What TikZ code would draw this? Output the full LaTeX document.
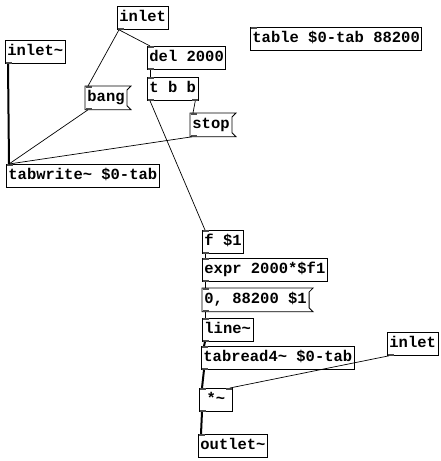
\documentclass[tikz,border=0pt]{standalone}
\usepackage{fontspec}
\setmonofont{Liberation Mono}

\tikzset{
  pdbox/.style={draw, line width=0.8pt, anchor=north west, font=\ttfamily\bfseries\fontsize{15.5}{16}\selectfont,
    inner xsep=2pt, inner ysep=0pt, minimum height=23pt, text height=11pt, text depth=3pt},
  pdmsgbox/.style={pdbox, draw=none},
  ctl/.style={line width=0.7pt},
  sig/.style={line width=2pt}
}
\newcommand{\pdflag}[1]{%
  \draw[line width=0.8pt] (#1.north west) -- ([xshift=4pt]#1.north east) -- ([yshift=-4pt]#1.north east)
    -- ([yshift=4pt]#1.south east) -- ([xshift=4pt]#1.south east) -- (#1.south west) -- cycle;}

\begin{document}
\begin{tikzpicture}[x=1pt,y=-1pt]
  \useasboundingbox[fill=white] (0,0) rectangle (440,461);

  %% Left part: recording
  \node[pdbox] (inA)   at (117,6)   {inlet};
  \node[pdbox] (inSig) at (5,40)    {inlet\textasciitilde};
  \node[pdbox] (del)   at (147,46)  {del 2000};
  \node[pdbox] (tbb)   at (147,77)  {t b b};
  \node[pdmsgbox] (bang) at (85,86) {bang};
  \node[pdmsgbox] (stop) at (190,113) {stop};
  \node[pdbox] (tabw)  at (6,164)   {tabwrite\textasciitilde{} \$0-tab};
  \node[pdbox] (tab)   at (250,27)  {table \$0-tab 88200};
  \pdflag{bang}
  \pdflag{stop}

  %% Right part: playback
  \node[pdbox] (f1)    at (202,230) {f \$1};
  \node[pdbox] (expr)  at (202,258) {expr 2000*\$f1};
  \node[pdmsgbox] (ramp) at (202,288) {0, 88200 \$1};
  \node[pdbox] (line)  at (202,318) {line\textasciitilde};
  \node[pdbox] (tabr)  at (201,346) {tabread4\textasciitilde{} \$0-tab};
  \node[pdbox] (inB)   at (387,332) {inlet};
  \node[pdbox, minimum width=33pt] (mul) at (199,388) {*\textasciitilde};
  \node[pdbox] (outl)  at (198,434) {outlet\textasciitilde};
  \pdflag{ramp}

  % inlets and outlets
  \foreach \n in {del,tbb,bang,stop,tabw,tab,f1,expr,ramp,line,tabr,mul,outl}
    \fill[black!70] ([xshift=0.5pt]\n.north west) rectangle ++(6,2);
  \foreach \n in {inA,inSig,del,tbb,bang,stop,f1,expr,ramp,line,tabr,inB,mul}
    \fill[black!70] ([xshift=0.5pt]\n.south west) rectangle ++(6,-2);
  \fill[black!70] ([xshift=-0.5pt]tbb.south east) rectangle ++(-6,-2);
  \fill[black!70] ([xshift=-0.5pt]mul.north east) rectangle ++(-6,2);

  % connections
  \draw[ctl] ([xshift=2pt]inA.south west) -- ([xshift=3pt]bang.north west);
  \draw[ctl] ([xshift=2pt]inA.south west) -- ([xshift=3pt]del.north west);
  \draw[sig] ([xshift=3pt]inSig.south west) -- ([xshift=3pt]tabw.north west);
  \draw[ctl] ([xshift=3pt]bang.south west) -- ([xshift=3pt]tabw.north west);
  \draw[ctl] ([xshift=2pt]stop.south west) -- ([xshift=3pt]tabw.north west);
  \draw[ctl] ([xshift=3pt]del.south west) -- ([xshift=3pt]tbb.north west);
  \draw[ctl] ([xshift=-3pt]tbb.south east) -- ([xshift=3pt]stop.north west);
  \draw[ctl] ([xshift=3pt]tbb.south west) -- ([xshift=3pt]f1.north west);
  \draw[ctl] ([xshift=3pt]f1.south west) -- ([xshift=3pt]expr.north west);
  \draw[ctl] ([xshift=3pt]expr.south west) -- ([xshift=3pt]ramp.north west);
  \draw[ctl] ([xshift=3pt]ramp.south west) -- ([xshift=3pt]line.north west);
  \draw[sig] ([xshift=3pt]line.south west) -- ([xshift=3pt]tabr.north west);
  \draw[sig] ([xshift=3pt]tabr.south west) -- ([xshift=3pt]mul.north west);
  \draw[ctl] ([xshift=2pt]inB.south west) -- ([xshift=-3pt]mul.north east);
  \draw[sig] ([xshift=3pt]mul.south west) -- ([xshift=3pt]outl.north west);
\end{tikzpicture}
\end{document}
